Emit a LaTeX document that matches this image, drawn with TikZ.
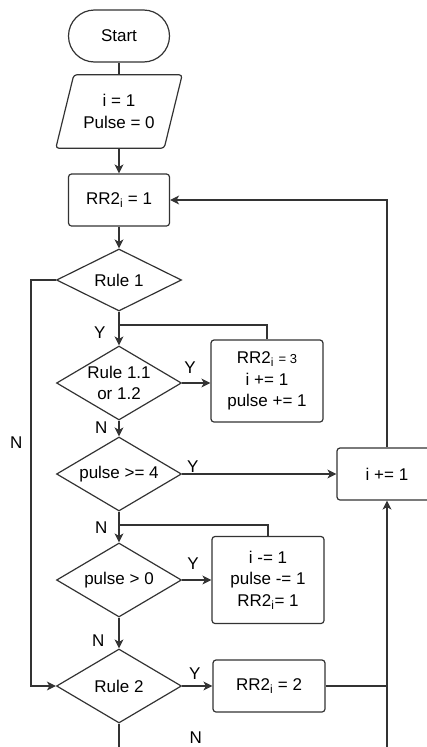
\documentclass[tikz,border=0pt]{standalone}
\usepackage{fontspec}
\setmainfont{Liberation Sans}
\definecolor{fcline}{RGB}{51,51,51}
\usetikzlibrary{arrows.meta,positioning,shapes.geometric,calc}

\begin{document}
\begin{tikzpicture}[x=1pt,y=-1pt,
  every node/.style={font=\fontsize{17}{21.7}\selectfont},
  base/.style={draw=fcline,line width=1.2pt},
  term/.style={base,rounded corners=26pt,minimum width=101pt,minimum height=52pt},
  proc/.style={base,rounded corners=3pt,align=center,minimum width=112pt},
  decision/.style={base,diamond,aspect=2,inner sep=-5pt,align=center,minimum width=125pt,minimum height=74pt},
  lbl/.style={inner sep=0pt},
  conn/.style={draw=fcline,line width=1.2pt},
  arr/.style={conn,-{Stealth[length=9pt,width=9pt,inset=2.5pt]}}]
  \useasboundingbox (0,0) rectangle (427,747);
  % shapes
  \node[term] (start) at (119,36) {Start};
  \node[minimum width=126pt,minimum height=73pt,align=center] (init) at (119,111.5) {i = 1\\Pulse = 0};
  \draw[base,rounded corners=3pt] (init.south west) -- ($(init.north west)+(18,0)$) -- (init.north east) -- ($(init.south east)+(-18,0)$) -- cycle;
  \node[proc,minimum width=101pt,minimum height=52pt] (rr1) at (119,200) {RR2\textsubscript{i} = 1};
  \node[decision,minimum height=62pt] (rule1) at (119,280) {Rule 1};
  \node[decision] (rule11) at (119,383) {Rule 1.1\\or 1.2};
  \node[proc,minimum height=82pt] (upd3) at (267,381) {RR2\textsubscript{i} {\fontsize{13}{15}\selectfont = 3}\\i += 1\\pulse += 1};
  \node[decision] (pge4) at (119,474) {pulse >= 4};
  \node[proc,minimum width=100pt,minimum height=52pt] (inc) at (387,474) {i += 1};
  \node[decision] (pgt0) at (119,580) {pulse > 0};
  \node[proc,minimum height=87pt] (dec) at (268,580) {i -= 1\\pulse -= 1\\RR2\textsubscript{i}= 1};
  \node[decision] (rule2) at (119,686) {Rule 2};
  \node[proc,minimum height=52pt] (upd2) at (269,686) {RR2\textsubscript{i} = 2};
  \coordinate (j1) at (119,325);
  \coordinate (j2) at (119,525);
  \coordinate (endl) at (119,747);
  \coordinate (endr) at (387,747);
  % connectors
  \draw[conn] (start) -- (init);
  \draw[arr] (init) -- (rr1);
  \draw[arr] (rr1) -- (rule1);
  \draw[arr] (rule1) -- node[lbl,pos=0.63,left=13pt] {Y} (rule11);
  \draw[conn] (upd3.north) |- (j1);
  \draw[arr] (rule11.east) -- node[lbl,pos=0.28,above=9pt] {Y} (rule11.east -| upd3.west);
  \draw[arr] (rule11) -- node[lbl,pos=0.47,left=11pt] {N} (pge4);
  \draw[arr] (pge4.east) -- node[lbl,pos=0.07,above=1pt] {Y} (pge4.east -| inc.west);
  \draw[arr] (pge4) -- node[lbl,pos=0.52,left=11pt] {N} (pgt0);
  \draw[conn] (dec.north) |- (j2);
  \draw[arr] (pgt0.east) -- node[lbl,pos=0.37,above=10pt] {Y} (pgt0.east -| dec.west);
  \draw[arr] (pgt0) -- node[lbl,pos=0.76,left=14pt] {N} (rule2);
  \draw[arr] (rule2.east) -- node[lbl,pos=0.42,above=6pt] {Y} (rule2.east -| upd2.west);
  \draw[arr] (rule1.west) -- ++(-25,0) coordinate (nl) -- node[lbl,pos=0.4,left=8pt] {N} (nl |- rule2.west) -- (rule2.west);
  \draw[conn] (rule2) -- node[lbl,pos=0.58,right=70pt] {N} (endl);
  \draw[conn] (upd2.east) -- (upd2.east -| inc.south);
  \draw[arr] (endr) -- (inc.south);
  \draw[arr] (inc.north) |- (rr1.east);
\end{tikzpicture}
\end{document}
